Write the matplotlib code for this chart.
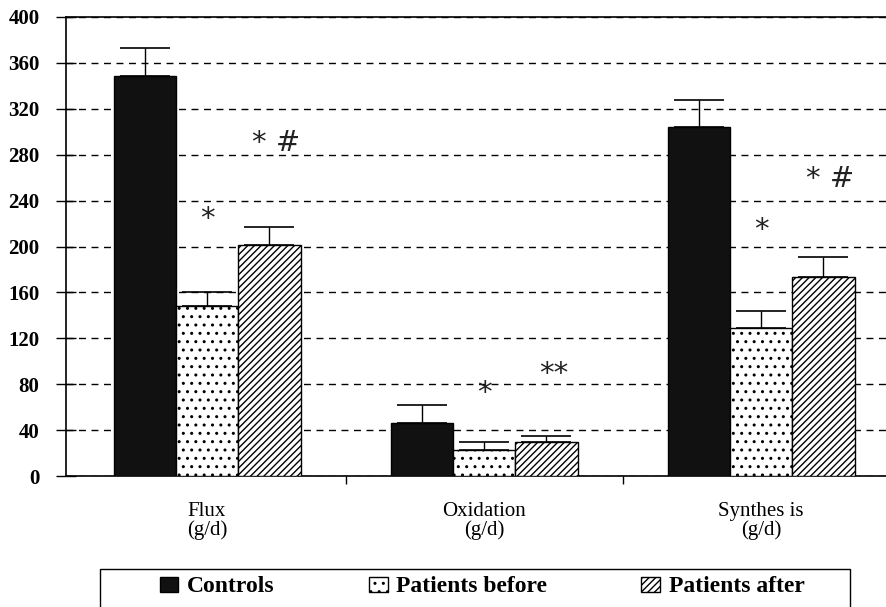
import matplotlib
matplotlib.use("Agg")
import matplotlib.pyplot as plt
from matplotlib.patches import Rectangle
import numpy as np

categories = ["Flux\n(g/d)", "Oxidation\n(g/d)", "Synthes is\n(g/d)"]
series_names = ["Controls", "Patients before", "Patients after"]
controls = [349, 46, 304]
patients_before = [148, 23, 129]
patients_after = [201, 30, 173]
controls_err = [24, 16, 24]
before_err = [12, 7, 15]
after_err = [16, 5, 18]
annotations = [("*", 0, 224), ("* #", 0.25, 290), ("*", 1, 72), ("**", 1.25, 89),
               ("*", 2, 214), ("* #", 2.25, 259)]
yticks = list(range(0, 401, 40))

plt.rcParams['hatch.linewidth'] = 1.0
fig = plt.figure(figsize=(8.87, 6.07), dpi=100)
ax = fig.add_axes([66/887, 1-476/607, 1-66/887+0.01, (476-17)/607])

serif = "Liberation Serif"
x = np.arange(len(categories))
w = 0.225
styles = [dict(facecolor="#111111", edgecolor="black", hatch=None),
          dict(facecolor="white", edgecolor="black", hatch=".."),
          dict(facecolor="white", edgecolor="black", hatch="/////")]
vals = [controls, patients_before, patients_after]
errs = [controls_err, before_err, after_err]
handles = []
for i, (v, e, st) in enumerate(zip(vals, errs, styles)):
    pos = x + (i - 1) * w
    b = ax.bar(pos, v, width=w, linewidth=1.0, zorder=3, label=series_names[i], **st)
    handles.append(b)
    ax.errorbar(pos, v, yerr=[np.zeros(len(e)), e], fmt="none", ecolor="black",
                elinewidth=1.0, capsize=18, capthick=1.2, zorder=2)

for txt, xp, yp in annotations:
    ax.text(xp, yp, txt, ha="center", va="center", fontsize=21, family="DejaVu Sans",
            color="#222222", zorder=5)

ax.set_xlim(-0.509, -0.509 + (887 - 66) / 275 + 0.01)
ax.set_ylim(0, 400)
ax.set_yticks(yticks)
ax.set_yticklabels([str(t) for t in yticks], family=serif, fontweight="bold", fontsize=15)
ax.tick_params(axis="y", direction="inout", length=14, width=1, pad=12)
ax.set_xticks(x)
ax.set_xticklabels(categories, family=serif, fontsize=15, linespacing=0.95)
ax.tick_params(axis="x", length=0, pad=19)
ax.set_xticks([0.5, 1.5], minor=True)
ax.tick_params(axis="x", which="minor", direction="out", length=6, width=1)

ax.yaxis.grid(True, linestyle=(0, (5, 4)), color="black", linewidth=1.0, zorder=0)
ax.set_axisbelow(True)
for s in ["left", "bottom", "top"]:
    ax.spines[s].set_linewidth(1.2)
ax.spines["right"].set_visible(False)

leg = fig.legend(handles=handles, labels=series_names, loc="center",
                 bbox_to_anchor=(482/887, 1-587/607), ncol=3, frameon=False,
                 prop=dict(family=serif, weight="bold", size=17),
                 handlelength=0.8, handleheight=0.6, handletextpad=0.35,
                 borderpad=0.2, columnspacing=4.0)
fig.patches.append(Rectangle((100/887, -0.05), 750/887, 0.05 + 1 - 569/607,
                             transform=fig.transFigure, fill=False,
                             edgecolor="black", linewidth=1.0))

fig.savefig("out.png", dpi=100)
